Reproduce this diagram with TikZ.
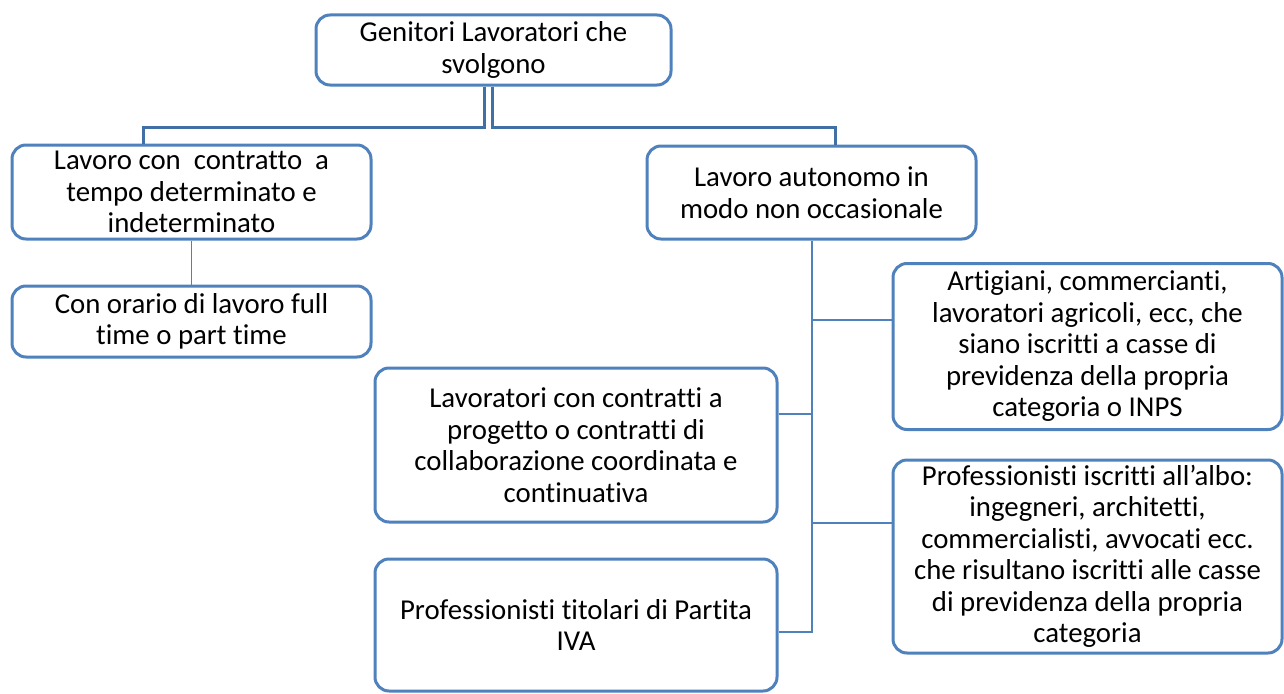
\documentclass[tikz,border=0pt]{standalone}
\usepackage{fontspec}
\setmainfont{Carlito}[Ligatures=NoCommon]
\usetikzlibrary{positioning}
\definecolor{boxblue}{RGB}{79,129,189}
\definecolor{linkblue}{RGB}{65,112,166}

\begin{document}
\begin{tikzpicture}[x=1pt,y=-1pt,
        box/.style={draw=boxblue, line width=3pt, rounded corners=14pt, fill=white,
            align=center, inner sep=0pt, font=\fontsize{28.8}{31.5}\selectfont},
        trunk/.style={draw=linkblue, line width=3pt},
        twig/.style={draw=boxblue, line width=1.5pt}]
    \useasboundingbox (0,0) rectangle (1284,693);

    % boxes
    \node[box, minimum width=355pt, minimum height=70pt] (top) at (493.5,50)
        {Genitori Lavoratori che\\svolgono};
    \node[box, minimum width=359pt, minimum height=94pt] (lav) at (191.5,192)
        {Lavoro con\ \ contratto\ \ a\\tempo determinato e\\indeterminato};
    \node[box, minimum width=359pt, minimum height=71pt] (orario) at (191.5,321.5)
        {Con orario di lavoro full\\time o part time};
    \node[box, minimum width=329pt, minimum height=93pt] (auto) at (811.5,192.5)
        {Lavoro autonomo in\\modo non occasionale};
    \node[box, minimum width=389pt, minimum height=166pt] (artig) at (1087.5,346.5)
        {Artigiani, commercianti,\\lavoratori agricoli, ecc, che\\siano iscritti a casse di\\previdenza della propria\\categoria o INPS};
    \node[box, minimum width=402pt, minimum height=154pt] (lavcoll) at (576,445)
        {Lavoratori con contratti a\\progetto o contratti di\\collaborazione coordinata e\\continuativa};
    \node[box, minimum width=389pt, minimum height=193pt] (iscr) at (1087.5,556.5)
        {Professionisti iscritti all’albo:\\ingegneri, architetti,\\commercialisti, avvocati ecc.\\che risultano iscritti alle casse\\di previdenza della propria\\categoria};
    \node[box, minimum width=402pt, minimum height=132pt] (titol) at (576,625)
        {Professionisti titolari di Partita\\IVA};

    % top split
    \draw[trunk] ([xshift=-9pt]top.south) -- ++(0,41) -| ([xshift=-48pt]lav.north);
    \draw[trunk] ([xshift=-1pt]top.south) -- ++(0,41) -| ([xshift=23.5pt]auto.north);

    \draw[twig] (lav.south) -- (orario.north);

    % spine under the autonomous branch
    \coordinate (s1) at ([xshift=0.5pt]auto.south);
    \coordinate (b1) at ([yshift=26.5pt]artig.west);
    \coordinate (b2) at ([yshift=31pt]lavcoll.east);
    \coordinate (b3) at ([yshift=33.5pt]iscr.west);
    \coordinate (b4) at ([yshift=-7pt]titol.east);
    \draw[twig] (s1) -- (b4 -| s1) -- (b4);
    \foreach \b in {b1,b2,b3} {
        \draw[twig] (\b) -- (\b -| s1);
    }
\end{tikzpicture}
\end{document}
